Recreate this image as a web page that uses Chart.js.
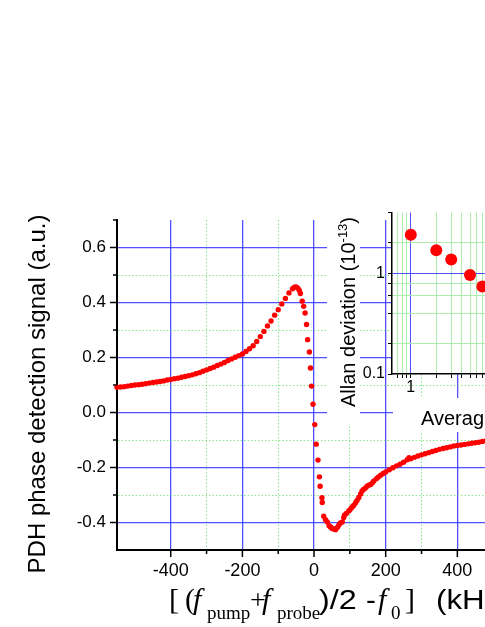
<!DOCTYPE html>
<html>
<head>
<meta charset="utf-8">
<script src="https://cdn.jsdelivr.net/npm/chart.js@4.4.0/dist/chart.umd.min.js"></script>
<style>
  html, body { margin:0; padding:0; background:#fff; overflow:hidden; width:485px; height:627px; }
  #main  { position:absolute; left:0; top:0; }
  #inset { position:absolute; left:322px; top:200px; }
</style>
</head>
<body>
<canvas id="main" width="540" height="627"></canvas>
<canvas id="inset" width="205" height="235"></canvas>
<script>
/* ── data: main PDH error signal (kHz, a.u.) ── */
const detuning = [
  -550,-540,-530,-520,-510,-500,-490,-480,-470,-460,-450,-440,-430,-420,-410,-400,
  -390,-380,-370,-360,-350,-340,-330,-320,-310,-300,-290,-280,-270,-260,-250,-240,
  -230,-220,-210,-200,-190,-180,-170,-160,-150,-140,-130,-120,-110,-100,-90,-80,-70,
  -60,-55,-50,-45,-41,-38,-33,-29,-25,-21,-18,-13,-10,-7,-3,2,6,11,15,17,22,23,27,
  32,37,42,46,49,51,55,60,65,69,73,79,83,85,90,97,100,104,108,111,116,120,125,130,
  134,138,143,148,153,158,163,167,175,180,186,193,200,210,220,230,240,250,260,265,
  270,280,290,300,310,320,330,340,350,360,370,380,390,400,410,420,430,440,450,460,
  470,480,490,500,510,520
];
const pdhSignal = [
  0.092,0.093,0.094,0.096,0.098,0.100,0.101,0.103,0.105,0.107,0.109,0.111,0.113,0.115,0.118,0.120,
  0.123,0.125,0.128,0.131,0.134,0.137,0.141,0.145,0.150,0.155,0.160,0.165,0.171,0.176,0.182,0.189,
  0.195,0.201,0.207,0.213,0.222,0.232,0.243,0.258,0.276,0.295,0.315,0.333,0.354,0.374,0.395,0.415,0.435,
  0.450,0.456,0.457,0.452,0.444,0.433,0.405,0.386,0.362,0.320,0.265,0.220,0.162,0.096,0.030,-0.044,-0.115,-0.173,-0.234,-0.268,-0.310,-0.327,-0.377,
  -0.390,-0.398,-0.412,-0.416,-0.420,-0.422,-0.424,-0.426,-0.418,-0.410,-0.402,-0.398,-0.382,-0.373,-0.367,-0.358,-0.354,-0.347,-0.342,-0.337,-0.328,-0.320,-0.309,-0.296,
  -0.285,-0.280,-0.275,-0.268,-0.264,-0.262,-0.255,-0.249,-0.240,-0.234,-0.228,-0.222,-0.216,-0.208,-0.201,-0.194,-0.188,-0.181,-0.172,-0.164,
  -0.168,-0.163,-0.158,-0.154,-0.150,-0.146,-0.142,-0.138,-0.134,-0.131,-0.128,-0.125,-0.122,-0.120,-0.118,-0.116,-0.114,-0.112,-0.110,-0.108,
  -0.105,-0.103,-0.101,-0.099,-0.098,-0.097
];

/* ── data: inset Allan deviation ── */
const avgTime  = [1, 2, 3, 5, 7];
const allanDev = [2.41, 1.69, 1.37, 0.96, 0.74];

const insetXTicks = [0.7, 0.8, 0.9, 1, 2, 3, 4, 5, 6, 7, 8, 9, 10, 20];
const insetYTicks = [0.1, 0.2, 0.4, 0.6, 0.8, 1, 2, 4];

/* ── styling ── */
const SANS  = '"Liberation Sans", Arial, sans-serif';
const SERIF = '"Liberation Serif", "Times New Roman", serif';
const BLUE  = 'rgba(50,50,255,0.85)';
const GREEN = 'rgba(110,225,110,0.8)';
const LGREEN = 'rgba(165,235,165,0.9)';
const NONE  = 'rgba(0,0,0,0)';

const X_MIN = -550, X_MAX = 600;
const isMajorX = v => Math.round(v) % 200 === 0;
const tenths   = v => Math.round(v * 10);

/* ═══ main chart plugin: tick marks + axis titles ═══ */
const mainDeco = {
  id: 'mainDeco',
  afterDraw(chart){
    const {ctx, scales:{x, y}} = chart;
    ctx.save();
    ctx.strokeStyle = '#000';
    ctx.lineWidth = 1.5;
    x.ticks.forEach(t => {
      const px = x.getPixelForValue(t.value);
      const len = isMajorX(t.value) ? 7 : 4;
      ctx.beginPath(); ctx.moveTo(px, y.bottom); ctx.lineTo(px, y.bottom + len); ctx.stroke();
    });
    y.ticks.forEach(t => {
      const k = tenths(t.value);
      if (k === -5) return;
      const py = y.getPixelForValue(t.value);
      const len = k % 2 === 0 ? 7 : 4;
      ctx.beginPath(); ctx.moveTo(x.left, py); ctx.lineTo(x.left - len, py); ctx.stroke();
    });

    // y title
    ctx.fillStyle = '#000';
    ctx.font = '24px ' + SANS;
    ctx.textAlign = 'center';
    ctx.textBaseline = 'alphabetic';
    ctx.translate(45, 394);
    ctx.rotate(-Math.PI / 2);
    ctx.fillText('PDH phase detection signal (a.u.)', 0, 0);
    ctx.restore();

    // x title, mixed fonts with subscripts; sans parts are drawn a bit wide like the original
    ctx.save();
    ctx.fillStyle = '#000';
    ctx.textAlign = 'left';
    ctx.textBaseline = 'alphabetic';
    const base = 609, sub = 619;
    const parts = [
      ['[',     169, '30px ' + SERIF, base, 1],
      ['(',     185, '30px ' + SERIF, base, 1],
      ['f',     193, 'italic 30px ' + SERIF, base, 1],
      ['pump',  207, '19px ' + SERIF, sub, 1],
      ['+',     250, '28px ' + SERIF, base, 1],
      ['f',     262, 'italic 30px ' + SERIF, base, 1],
      ['probe', 277, '19px ' + SERIF, sub, 1],
      [')/2',   319, '27px ' + SANS, base, 1.2],
      ['-',     366, '27px ' + SANS, base, 1.1],
      ['f',     378, 'italic 30px ' + SERIF, base, 1],
      ['0',     391, '19px ' + SERIF, sub, 1],
      [']',     405, '30px ' + SERIF, base, 1],
      ['(kHz)', 436, '27px ' + SANS, base, 1.16]
    ];
    parts.forEach(([t, px, f, py, sx]) => {
      ctx.save();
      ctx.font = f;
      ctx.translate(px, py);
      ctx.scale(sx, 1);
      ctx.fillText(t, 0, 0);
      ctx.restore();
    });
    ctx.restore();
  }
};

new Chart(document.getElementById('main').getContext('2d'), {
  type: 'scatter',
  data: {
    datasets: [{
      data: detuning.map((d, i) => ({x: d, y: pdhSignal[i]})),
      backgroundColor: '#ff0000',
      borderWidth: 0,
      pointRadius: 2.7,
      pointHoverRadius: 2.7,
      clip: false
    }]
  },
  options: {
    responsive: false,
    animation: false,
    events: [],
    layout: { padding: { top: 220, right: 11, left: 0, bottom: 0 } },
    plugins: { legend: { display: false }, tooltip: { enabled: false } },
    scales: {
      x: {
        type: 'linear', min: X_MIN, max: X_MAX,
        afterBuildTicks: s => { s.ticks = s.ticks.filter(t => Math.round(t.value) % 100 === 0); },
        afterFit: s => { s.height = 77; s.paddingLeft = 0; s.paddingRight = 0; },
        ticks: {
          stepSize: 100, autoSkip: false, maxRotation: 0, padding: 10,
          color: '#000', font: { family: SANS, size: 18 },
          callback: v => (isMajorX(v) && v < X_MAX) ? String(v) : ''
        },
        grid: {
          drawTicks: false, lineWidth: c => (c.tick && isMajorX(c.tick.value)) ? 1.3 : 1,
          color: c => {
            if (!c.tick) return NONE;
            const v = c.tick.value;
            if (v <= X_MIN || v >= X_MAX) return NONE;
            return isMajorX(v) ? BLUE : GREEN;
          }
        },
        border: {
          color: '#000', width: 2,
          dash: c => (c.tick && !isMajorX(c.tick.value)) ? [1.5, 2] : []
        }
      },
      y: {
        type: 'linear', min: -0.5, max: 0.7,
        afterFit: s => { s.width = 117; },
        ticks: {
          stepSize: 0.1, autoSkip: false, padding: 11,
          color: '#000', font: { family: SANS, size: 17 },
          callback: v => { const k = tenths(v); return k % 2 === 0 ? (k / 10).toFixed(1) : ''; }
        },
        grid: {
          drawTicks: false, lineWidth: c => (c.tick && tenths(c.tick.value) % 2 === 0) ? 1.3 : 1,
          color: c => {
            if (!c.tick) return NONE;
            const k = tenths(c.tick.value);
            if (k === -5 || k === 7) return NONE;
            return k % 2 === 0 ? BLUE : GREEN;
          }
        },
        border: {
          color: '#000', width: 2,
          dash: c => (c.tick && tenths(c.tick.value) % 2 !== 0) ? [1.5, 2] : []
        }
      }
    }
  },
  plugins: [mainDeco]
});

/* ═══ inset plugin: white panels + titles ═══ */
const insetDeco = {
  id: 'insetDeco',
  beforeDraw(chart){
    const {ctx, chartArea:a} = chart;
    ctx.save();
    ctx.fillStyle = '#fff';
    ctx.fillRect(a.left, a.top, a.right - a.left, a.bottom - a.top);
    ctx.fillRect(5, 5, 33, 220);           // y title panel
    ctx.fillRect(a.left + 1, 198, 200, 34); // x title panel
    ctx.restore();
  },
  afterDraw(chart){
    const {ctx} = chart;
    ctx.save();
    ctx.fillStyle = '#000';
    ctx.textBaseline = 'alphabetic';
    ctx.textAlign = 'left';
    ctx.font = '20px ' + SANS;
    ctx.fillText('Averaging time (s)', 99, 225);

    ctx.translate(33, 207);
    ctx.rotate(-Math.PI / 2);
    const a = 'Allan deviation (10';
    ctx.fillText(a, 0, 0);
    let w = ctx.measureText(a).width;
    ctx.font = '13px ' + SANS;
    ctx.fillText('-13', w, -8);
    w += ctx.measureText('-13').width;
    ctx.font = '20px ' + SANS;
    ctx.fillText(')', w, 0);
    ctx.restore();
  }
};

new Chart(document.getElementById('inset').getContext('2d'), {
  type: 'scatter',
  data: {
    datasets: [{
      data: avgTime.map((t, i) => ({x: t, y: allanDev[i]})),
      backgroundColor: '#ff0000',
      borderWidth: 0,
      pointRadius: 6,
      pointHoverRadius: 6,
      clip: false
    }]
  },
  options: {
    responsive: false,
    animation: false,
    events: [],
    layout: { padding: { top: 11, right: 2.5, left: 0, bottom: 0 } },
    plugins: { legend: { display: false }, tooltip: { enabled: false } },
    scales: {
      x: {
        type: 'logarithmic', min: 0.6, max: 20,
        afterBuildTicks: s => { s.ticks = insetXTicks.map(v => ({value: v})); },
        afterFit: s => { s.height = 61; s.paddingRight = 0; },
        ticks: {
          autoSkip: false, maxRotation: 0, padding: 0,
          color: '#000', font: { family: SANS, size: 16 },
          callback: v => (v === 1 || v === 10) ? String(v) : ''
        },
        grid: {
          tickLength: 4, tickColor: '#000', tickWidth: 1, lineWidth: 1,
          color: c => !c.tick ? NONE : (c.tick.value === 1 || c.tick.value === 10 ? BLUE : LGREEN)
        },
        border: { color: '#000', width: 1.5 }
      },
      y: {
        type: 'logarithmic', min: 0.1, max: 4,
        afterBuildTicks: s => { s.ticks = insetYTicks.map(v => ({value: v})); },
        afterFit: s => { s.width = 70; },
        ticks: {
          autoSkip: false, padding: 3,
          color: '#000', font: { family: SANS, size: 16 },
          callback: v => v === 1 ? '1' : (v === 0.1 ? '0.1' : '')
        },
        grid: {
          tickLength: 4, tickColor: '#000', tickWidth: 1, lineWidth: 1,
          color: c => {
            if (!c.tick) return NONE;
            const v = c.tick.value;
            if (v === 0.1 || v === 4) return NONE;
            return v === 1 ? BLUE : LGREEN;
          }
        },
        border: { color: '#000', width: 1.5 }
      }
    }
  },
  plugins: [insetDeco]
});
</script>
</body>
</html>
